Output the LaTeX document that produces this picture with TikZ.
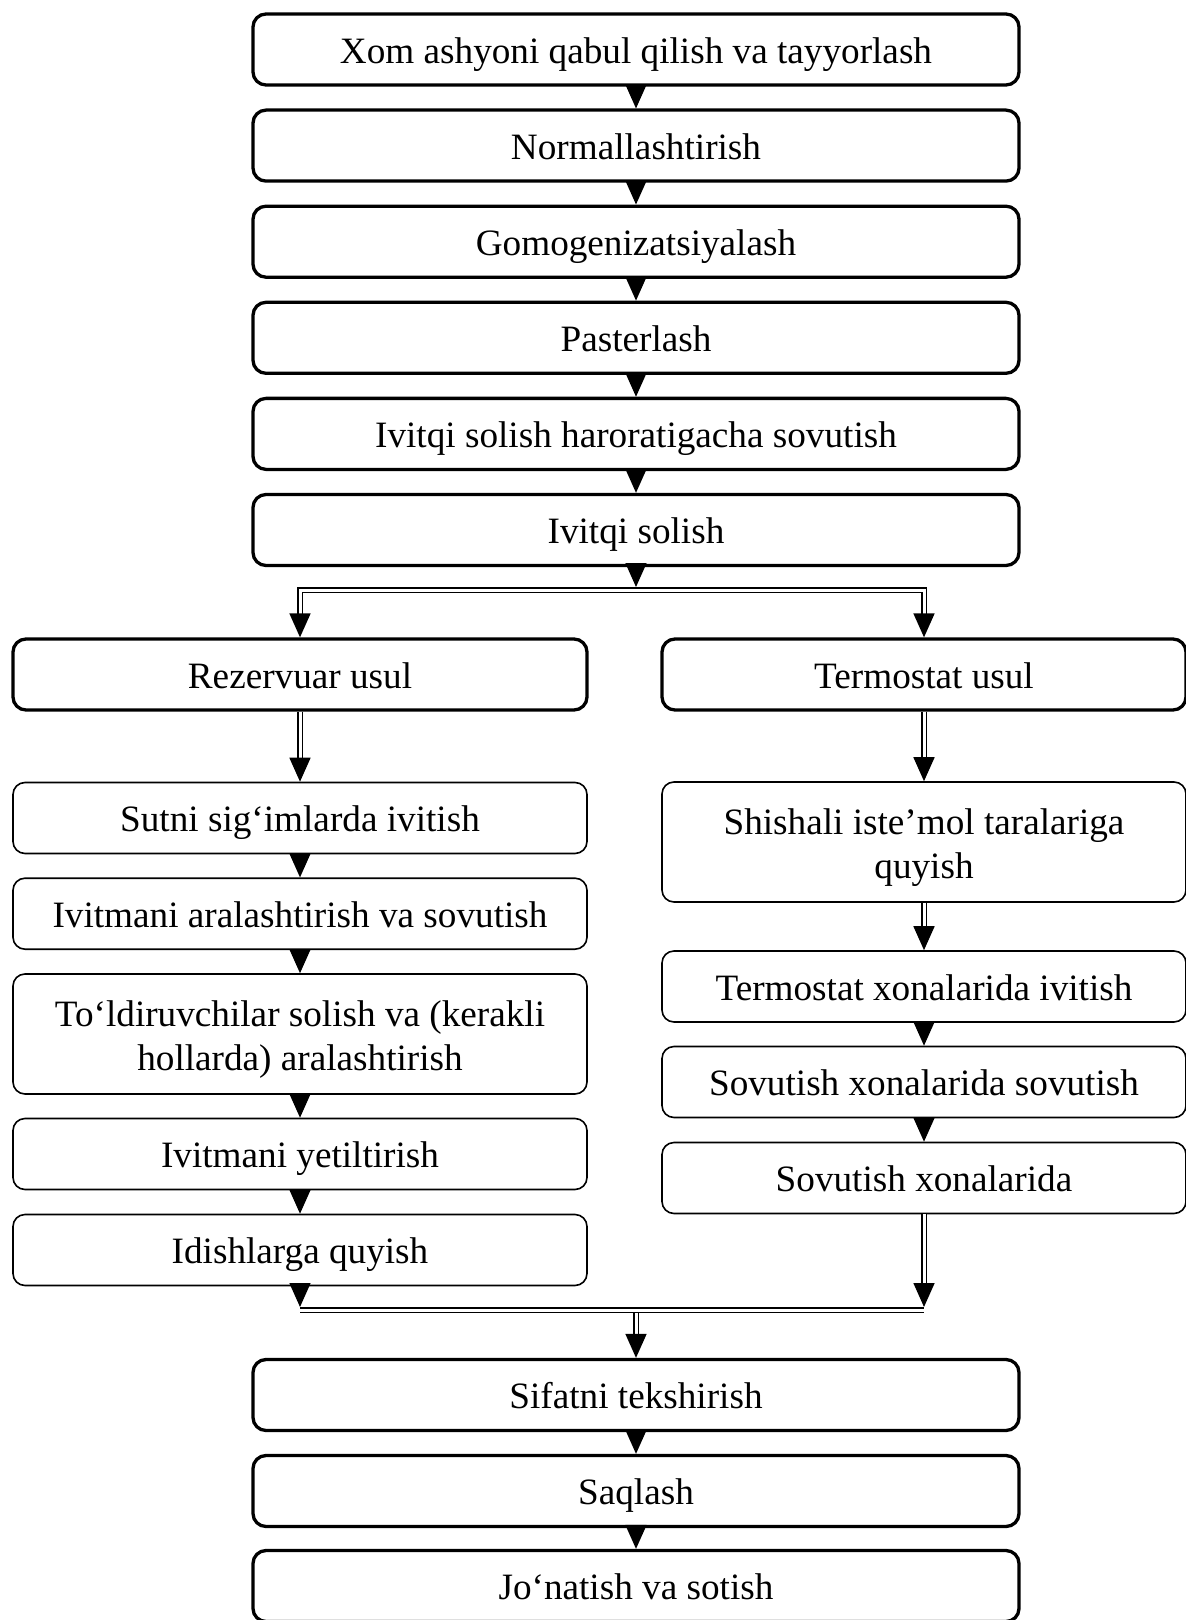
\documentclass[tikz,border=0pt]{standalone}
\usepackage{fontspec}
\setmainfont{Liberation Serif}
\usetikzlibrary{arrows.meta,calc}
\newcommand\firstlinestrut{\rule{0pt}{19pt}}
\newcommand\lastlinestrut{\rule[-4.5pt]{0pt}{4.5pt}}
\begin{document}
\begin{tikzpicture}[x=0.5pt,y=-0.5pt,
  every node/.style={font=\fontsize{18.6}{22.2}\selectfont, align=center, inner sep=0pt},
  oneline/.style={text height=18.2pt, text depth=4.5pt},
  thickbox/.style={draw, line width=1.65pt, rounded corners=6.5pt, minimum height=35.5pt},
  thinbox/.style={draw, line width=0.8pt, rounded corners=6pt, minimum height=35.5pt},
  mainw/.style={minimum width=383pt, oneline},
  leftw/.style={minimum width=287pt},
  rightw/.style={minimum width=262pt},
  tri/.style={-{Triangle[width=10.5pt,length=12pt]}, line width=0.8pt},
  dbl/.style={double, double distance=1.5pt, line width=0.75pt},
]
\useasboundingbox (0,0) rectangle (1186,1620);

% main column
\node[thickbox, mainw] (m1) at (636,49.5)  {Xom ashyoni qabul qilish va tayyorlash};
\node[thickbox, mainw] (m2) at (636,145.6) {Normallashtirish};
\node[thickbox, mainw] (m3) at (636,241.7) {Gomogenizatsiyalash};
\node[thickbox, mainw] (m4) at (636,337.8) {Pasterlash};
\node[thickbox, mainw] (m5) at (636,433.9) {Ivitqi solish haroratigacha sovutish};
\node[thickbox, mainw] (m6) at (636,530)   {Ivitqi solish};

% branches
\node[thickbox, leftw, oneline]  (rez) at (300,674.5) {Rezervuar usul};
\node[thickbox, rightw, oneline] (ter) at (924,674.5) {Termostat usul};

% left column
\node[thinbox, leftw, oneline] (l1) at (300,818)   {Sutni sig‘imlarda ivitish};
\node[thinbox, leftw, oneline] (l2) at (300,913.7) {Ivitmani aralashtirish va sovutish};
\node[thinbox, leftw, minimum height=60pt] (l3) at (300,1034) {\firstlinestrut To‘ldiruvchilar solish va (kerakli\\\lastlinestrut hollarda) aralashtirish};
\node[thinbox, leftw, oneline] (l4) at (300,1154)  {Ivitmani yetiltirish};
\node[thinbox, leftw, oneline] (l5) at (300,1250)  {Idishlarga quyish};

% right column
\node[thinbox, rightw, minimum height=60pt] (r1) at (924,842) {\firstlinestrut Shishali iste’mol taralariga\\\lastlinestrut quyish};
\node[thinbox, rightw, oneline] (r2) at (924,986.5) {Termostat xonalarida ivitish};
\node[thinbox, rightw, oneline] (r3) at (924,1082)  {Sovutish xonalarida sovutish};
\node[thinbox, rightw, oneline] (r4) at (924,1178)  {Sovutish xonalarida};

% bottom column
\node[thickbox, mainw] (b1) at (636,1395) {Sifatni tekshirish};
\node[thickbox, mainw] (b2) at (636,1491) {Saqlash};
\node[thickbox, mainw] (b3) at (636,1586) {Jo‘natish va sotish};

% junction coordinates
\coordinate (jT) at (636,590);
\coordinate (jL) at (300,590);
\coordinate (jR) at (924,590);
\coordinate (kL) at (300,1310);
\coordinate (kR) at (924,1310);
\coordinate (kM) at (636,1310);

% double connectors
\draw[dbl] ($(rez.north)+(0,-20)$) -- (jL) -- (jR) -- ($(ter.north)+(0,-20)$);
\draw[dbl] (rez.south) -- ($(l1.north)+(0,-20)$);
\draw[dbl] (ter.south) -- ($(r1.north)+(0,-20)$);
\draw[dbl] (r1.south) -- ($(r2.north)+(0,-20)$);
\draw[dbl] (kL) -- (kR);
\draw[dbl] (r4.south) -- ($(kR)+(0,-25)$);
\draw[dbl] ($(kM)+(0,3)$) -- ($(b1.north)+(0,-20)$);

% arrows
\draw[tri] (m1.south) -- (m2.north);
\draw[tri] (m2.south) -- (m3.north);
\draw[tri] (m3.south) -- (m4.north);
\draw[tri] (m4.south) -- (m5.north);
\draw[tri] (m5.south) -- (m6.north);
\draw[tri] (m6.south) -- ($(jT)+(0,-3)$);
\draw[tri] ($(rez.north)+(0,-22)$) -- (rez.north);
\draw[tri] ($(ter.north)+(0,-22)$) -- (ter.north);
\draw[tri] ($(l1.north)+(0,-22)$) -- (l1.north);
\draw[tri] ($(r1.north)+(0,-22)$) -- (r1.north);
\draw[tri] ($(r2.north)+(0,-22)$) -- (r2.north);
\draw[tri] (l1.south) -- (l2.north);
\draw[tri] (l2.south) -- (l3.north);
\draw[tri] (l3.south) -- (l4.north);
\draw[tri] (l4.south) -- (l5.north);
\draw[tri] (r2.south) -- (r3.north);
\draw[tri] (r3.south) -- (r4.north);
\draw[tri] (l5.south) -- ($(kL)+(0,-3)$);
\draw[tri] ($(kR)+(0,-27)$) -- ($(kR)+(0,-3)$);
\draw[tri] ($(b1.north)+(0,-22)$) -- (b1.north);
\draw[tri] (b1.south) -- (b2.north);
\draw[tri] (b2.south) -- (b3.north);
\end{tikzpicture}
\end{document}
